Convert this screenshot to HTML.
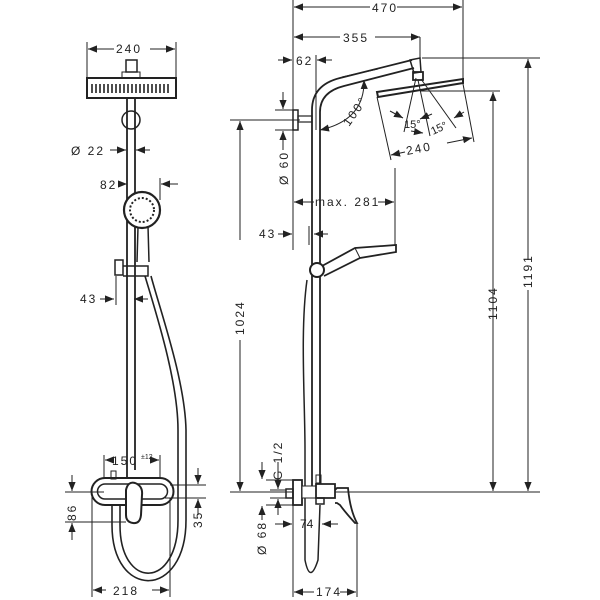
<!DOCTYPE html>
<html><head><meta charset="utf-8"><style>
html,body{margin:0;padding:0;background:#fff}
svg{display:block}
text{font-family:"Liberation Sans",sans-serif;font-size:12px;fill:#222;letter-spacing:2px}
</style></head><body>
<svg width="600" height="600" viewBox="0 0 600 600" xmlns="http://www.w3.org/2000/svg">
<defs>
<marker id="a" viewBox="0 0 10 10" refX="10" refY="5" markerWidth="9" markerHeight="9" orient="auto-start-reverse" markerUnits="userSpaceOnUse"><path d="M0,1 L10,5 L0,9z" fill="#222"/></marker>
</defs>
<g stroke="#222" fill="none" stroke-width="1">
<!-- LEFT VIEW -->
<line x1="87" y1="42" x2="87" y2="78"/><line x1="176" y1="42" x2="176" y2="78"/>
<line x1="88" y1="49" x2="114" y2="49" marker-start="url(#a)"/><line x1="150" y1="49" x2="175" y2="49" marker-end="url(#a)"/>
<rect x="126" y="60" width="11" height="12" stroke-width="1.5"/>
<rect x="122" y="72" width="18" height="6"/>
<rect x="87" y="78" width="89" height="20" stroke-width="2"/>
<path d="M92,84 v9 M96,84 v9 M100,84 v9 M104,84 v9 M108,84 v9 M112,84 v9 M116,84 v9 M120,84 v9 M124,84 v9 M128,84 v9 M132,84 v9 M136,84 v9 M140,84 v9 M144,84 v9 M148,84 v9 M152,84 v9 M156,84 v9 M160,84 v9 M164,84 v9 M168,84 v9" stroke-width="1.6"/>
<line x1="127" y1="98" x2="127" y2="485" stroke-width="1.8"/><line x1="135" y1="98" x2="135" y2="470" stroke-width="1.8"/>
<circle cx="131" cy="120" r="9" stroke-width="1.5"/>
<line x1="110" y1="150" x2="126" y2="150" marker-end="url(#a)"/><line x1="150" y1="150" x2="136" y2="150" marker-end="url(#a)"/>
<line x1="118" y1="184" x2="127" y2="184" marker-end="url(#a)"/><line x1="178" y1="184" x2="161" y2="184" marker-end="url(#a)"/>
<line x1="160" y1="178" x2="160" y2="200"/>
<circle cx="142" cy="210" r="18" stroke-width="2.2" fill="#fff"/>
<circle cx="142" cy="210" r="12" stroke-dasharray="2,2" stroke-width="2"/>
<path d="M138,227 L137,262 M148,226 L149,262" stroke-width="1.5"/>
<rect x="115" y="260" width="8" height="15" stroke-width="1.5"/>
<path d="M123,266 h25 v10 h-25" stroke-width="1.5"/>
<path d="M151,276 C160,310 185,380 186,430 L186,520 C186,600 112,600 112,525 L112,505" stroke-width="1.6"/>
<path d="M145,276 C155,310 178,380 178,430 L178,520 C178,590 120,590 120,525 L120,505" stroke-width="1.6"/>
<line x1="100" y1="299" x2="114" y2="299" marker-end="url(#a)"/><line x1="148" y1="299" x2="134" y2="299" marker-end="url(#a)"/>
<line x1="116" y1="276" x2="116" y2="305"/>
<!-- mixer left -->
<path d="M105,478 H160 A13,13 0 0 1 160,505 H105 A13,13 0 0 1 105,478Z" stroke-width="2" fill="#fff"/>
<path d="M105,484 H160 A7,7 0 0 1 160,499 H105 A7,7 0 0 1 105,484Z" stroke-width="1.5"/>
<rect x="111" y="471" width="5" height="8"/>
<path d="M126,490 Q128,481 135,483 Q143,486 142,495 L141,515 Q140,524 133,523 Q126,522 126,515 Z" stroke-width="2" fill="#fff"/>
<line x1="104" y1="455" x2="104" y2="478"/><line x1="160" y1="455" x2="160" y2="478"/>
<line x1="105" y1="460" x2="110" y2="460" marker-start="url(#a)"/><line x1="154" y1="460" x2="159" y2="460" marker-end="url(#a)"/>
<line x1="65" y1="492" x2="104" y2="492"/><line x1="65" y1="522" x2="126" y2="522"/>
<line x1="72" y1="475" x2="72" y2="491" marker-end="url(#a)"/><line x1="72" y1="540" x2="72" y2="523" marker-end="url(#a)"/>
<line x1="170" y1="485" x2="206" y2="485"/><line x1="165" y1="498" x2="206" y2="498"/>
<line x1="198" y1="468" x2="198" y2="484" marker-end="url(#a)"/><line x1="198" y1="515" x2="198" y2="499" marker-end="url(#a)"/>
<line x1="92" y1="495" x2="92" y2="597"/><line x1="170" y1="498" x2="170" y2="597"/>
<line x1="93" y1="590" x2="106" y2="590" marker-start="url(#a)"/><line x1="152" y1="590" x2="169" y2="590" marker-end="url(#a)"/>
<!-- 1024 -->
<line x1="230" y1="120" x2="300" y2="120"/>
<line x1="240" y1="240" x2="240" y2="121" marker-end="url(#a)"/><line x1="240" y1="340" x2="240" y2="491" marker-end="url(#a)"/>
<!-- RIGHT VIEW -->
<line x1="293" y1="0" x2="293" y2="250"/><line x1="463" y1="0" x2="463" y2="80"/>
<line x1="294" y1="7" x2="370" y2="7" marker-start="url(#a)"/><line x1="397" y1="7" x2="462" y2="7" marker-end="url(#a)"/>
<line x1="294" y1="37" x2="340" y2="37" marker-start="url(#a)"/><line x1="375" y1="37" x2="420" y2="37" marker-end="url(#a)"/>
<line x1="420" y1="37" x2="420" y2="60"/>
<line x1="278" y1="60" x2="292" y2="60" marker-end="url(#a)"/><line x1="332" y1="60" x2="317" y2="60" marker-end="url(#a)"/>
<line x1="316" y1="55" x2="316" y2="130"/>
<path d="M312,490 V110 Q312,85 340,78 L412,60" stroke-width="1.8"/>
<path d="M320,490 V112 Q320,92 344,86 L414,68" stroke-width="1.8"/>
<path d="M342,77 L378,69" stroke-width="1"/>
<path d="M410,60 L420,58 L421,72 L414,73 Z" stroke-width="1.5"/>
<rect x="413" y="72" width="10" height="8" stroke-width="1.8"/>
<path d="M377,92 L463,79 L463,83 L378,97 Z" stroke-width="2"/>
<line x1="377" y1="97" x2="391" y2="160"/><line x1="463" y1="84" x2="474" y2="142"/>
<line x1="422" y1="58" x2="540" y2="58"/><line x1="420" y1="91" x2="500" y2="91"/>
<line x1="416" y1="78" x2="404" y2="132"/><line x1="418" y1="80" x2="430" y2="136"/><line x1="421" y1="79" x2="456" y2="128"/>
<line x1="390" y1="111" x2="403" y2="118" marker-end="url(#a)"/><line x1="432" y1="114" x2="420" y2="119" marker-end="url(#a)"/>
<line x1="411" y1="131" x2="423" y2="133" marker-end="url(#a)"/><line x1="464" y1="112" x2="454" y2="118" marker-end="url(#a)"/>
<line x1="391" y1="155" x2="405" y2="152" marker-start="url(#a)"/><line x1="447" y1="143" x2="472" y2="138" marker-end="url(#a)"/>
<path d="M364,80 Q365,120 320,130" marker-start="url(#a)" marker-end="url(#a)"/>
<rect x="293" y="110" width="5" height="20" stroke-width="1.5"/>
<rect x="298" y="116" width="14" height="6" stroke-width="1.2"/>
<line x1="275" y1="110" x2="293" y2="110"/><line x1="275" y1="130" x2="293" y2="130"/>
<line x1="283" y1="92" x2="283" y2="109" marker-end="url(#a)"/><line x1="283" y1="150" x2="283" y2="131" marker-end="url(#a)"/>
<line x1="294" y1="202" x2="314" y2="202" marker-start="url(#a)"/><line x1="378" y1="202" x2="394" y2="202" marker-end="url(#a)"/>
<line x1="395" y1="168" x2="395" y2="245"/>
<line x1="278" y1="234" x2="292" y2="234" marker-end="url(#a)"/><line x1="328" y1="234" x2="314" y2="234" marker-end="url(#a)"/>
<line x1="309" y1="226" x2="309" y2="245"/>
<circle cx="317" cy="270" r="7" stroke-width="2" fill="#fff"/>
<path d="M322,266 L355,248 L396,245 L396,252 L360,258 L324,276" stroke-width="1.8"/>
<line x1="355" y1="248" x2="360" y2="258"/>
<path d="M307,280 C300,330 305,400 305,450 L305,560 Q310,585 318,560 L320,505" stroke-width="1.5"/>
<line x1="493" y1="92" x2="493" y2="491" marker-start="url(#a)" marker-end="url(#a)"/>
<line x1="528" y1="59" x2="528" y2="260" marker-start="url(#a)"/><line x1="528" y1="290" x2="528" y2="491" marker-end="url(#a)"/>
<line x1="230" y1="492" x2="540" y2="492"/>
<rect x="293" y="480" width="9" height="25" stroke-width="1.8" fill="#fff"/>
<rect x="286" y="489" width="7" height="9" stroke-width="1.5"/>
<rect x="302" y="486" width="14" height="12" fill="#fff"/>
<rect x="316" y="475" width="5" height="8"/>
<path d="M316,484 H335 V498 H316 Z" stroke-width="1.8" fill="#fff"/>
<path d="M335,490 L337,488 L348,488 Q350,510 357,523 L355,523 Q345,512 340,505 L337,503 L335,503" stroke-width="1.8"/>
<rect x="316" y="498" width="8" height="6" stroke-width="1.5"/>
<line x1="266" y1="480" x2="293" y2="480"/><line x1="266" y1="505" x2="293" y2="505"/>
<line x1="270" y1="490" x2="286" y2="490"/><line x1="270" y1="498" x2="286" y2="498"/>
<line x1="278" y1="462" x2="278" y2="489" marker-end="url(#a)"/><line x1="278" y1="515" x2="278" y2="499" marker-end="url(#a)"/>
<line x1="262" y1="462" x2="262" y2="479" marker-end="url(#a)"/><line x1="262" y1="520" x2="262" y2="506" marker-end="url(#a)"/>
<line x1="275" y1="524" x2="292" y2="524" marker-end="url(#a)"/><line x1="338" y1="524" x2="322" y2="524" marker-end="url(#a)"/>
<line x1="293" y1="505" x2="293" y2="597"/><line x1="357" y1="523" x2="357" y2="597"/>
<line x1="294" y1="592" x2="314" y2="592" marker-start="url(#a)"/><line x1="340" y1="592" x2="356" y2="592" marker-end="url(#a)"/>
</g>
<g>
<text x="116" y="53">240</text>
<text x="71" y="155">Ø 22</text>
<text x="100" y="189">82</text>
<text x="80" y="303">43</text>
<text x="112" y="465">150</text><text x="141" y="459" style="font-size:7px;letter-spacing:0">±12</text>
<text x="113" y="595">218</text>
<text transform="translate(76,521) rotate(-90)">86</text>
<text transform="translate(202,528) rotate(-90)">35</text>
<text transform="translate(244,335) rotate(-90)">1024</text>
<text x="372" y="12">470</text>
<text x="343" y="42">355</text>
<text x="296" y="65">62</text>
<text transform="translate(349,127) rotate(-55)">100°</text>
<text transform="translate(288,185) rotate(-90)">Ø 60</text>
<text x="404" y="128" style="font-size:11px;letter-spacing:0">15°</text>
<text transform="translate(433,135) rotate(-25)" style="font-size:11px;letter-spacing:0">15°</text>
<text transform="translate(407,155) rotate(-11)">240</text>
<text x="315" y="206">max. 281</text>
<text x="259" y="238">43</text>
<text transform="translate(497,320) rotate(-90)">1104</text>
<text transform="translate(532,288) rotate(-90)">1191</text>
<text transform="translate(282,480) rotate(-90)">G 1/2</text>
<text transform="translate(266,555) rotate(-90)">Ø 68</text>
<text x="300" y="528" style="letter-spacing:0">74</text>
<text x="316" y="596">174</text>
</g>
</svg>
</body></html>
